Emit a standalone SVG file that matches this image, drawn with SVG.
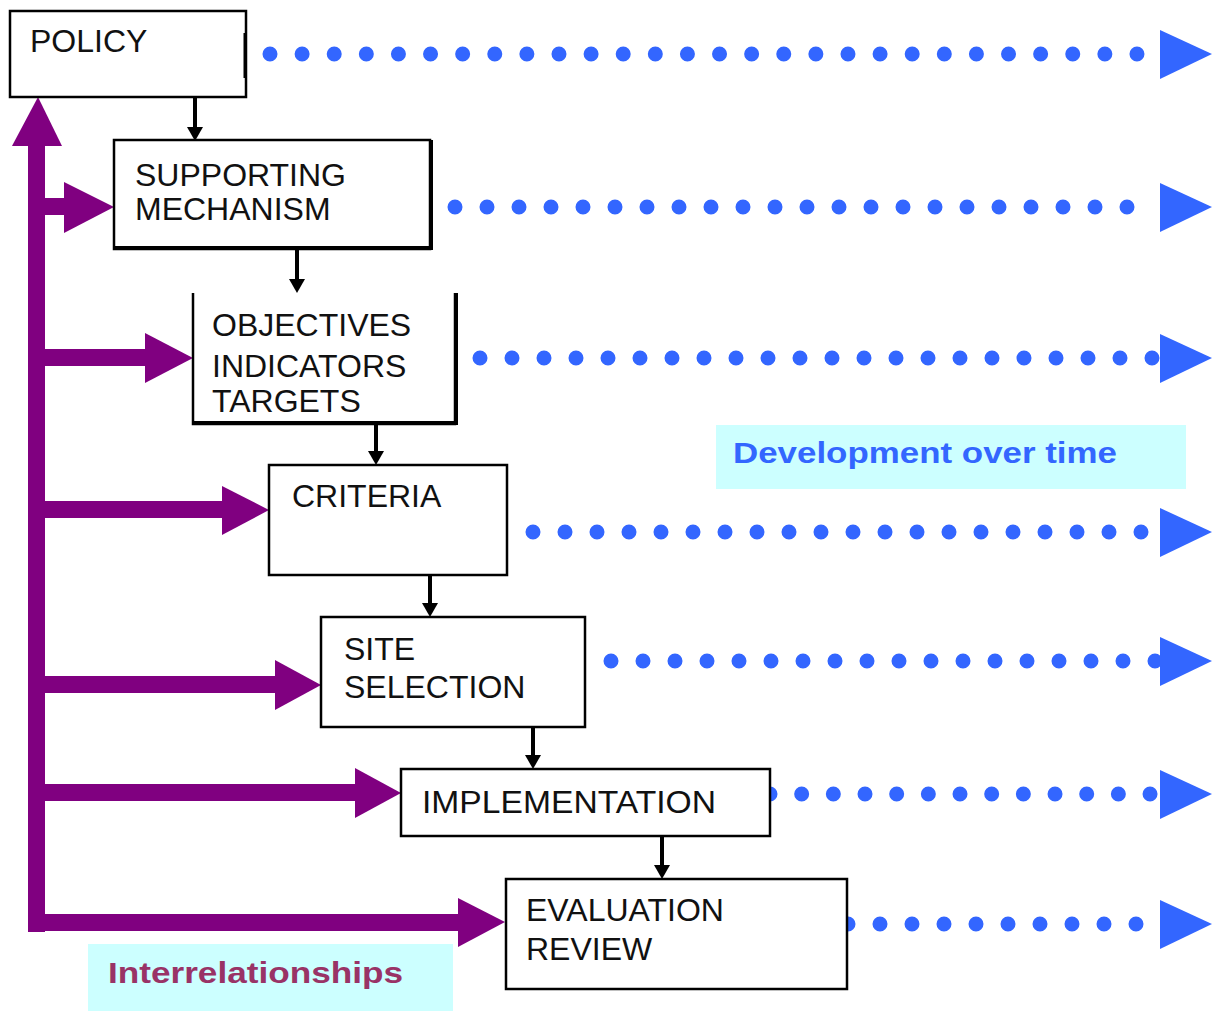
<svg xmlns="http://www.w3.org/2000/svg" width="1215" height="1012" viewBox="0 0 1215 1012">
<style>
.box{fill:#fff;stroke:#000;stroke-width:2.5}
.t{font-family:"Liberation Sans",Arial,sans-serif;font-size:32px;fill:#111}
.dots{fill:none;stroke:#3366ff;stroke-width:15;stroke-linecap:round}
.bh{fill:#3366ff}
.pb{fill:#800080}
.blk{stroke:#000;stroke-width:4;fill:none}
.ah{fill:#000}
</style>
<rect width="1215" height="1012" fill="#fff"/>
<g id="labels">
<rect x="716" y="425" width="470" height="64" fill="#ccffff"/>
<text x="733" y="463" font-family="Liberation Sans,Arial,sans-serif" font-size="30" font-weight="bold" fill="#3366ff" textLength="384" lengthAdjust="spacingAndGlyphs">Development over time</text>
<rect x="88" y="944" width="365" height="67" fill="#ccffff"/>
<text x="108" y="983" font-family="Liberation Sans,Arial,sans-serif" font-size="30" font-weight="bold" fill="#993366" textLength="295" lengthAdjust="spacingAndGlyphs">Interrelationships</text>
</g>
<g id="connectors">
<!-- blue dotted timelines -->
<path class="dots" d="M270 54H1138" stroke-dasharray="0 32.11"/>
<path class="dots" d="M455 207H1128" stroke-dasharray="0 32"/>
<path class="dots" d="M480 358H1153" stroke-dasharray="0 32"/>
<path class="dots" d="M533 532H1142" stroke-dasharray="0 32"/>
<path class="dots" d="M611 661H1156" stroke-dasharray="0 32"/>
<path class="dots" d="M770 794H1151" stroke-dasharray="0 31.67"/>
<path class="dots" d="M848 924H1137" stroke-dasharray="0 32"/>
<polygon class="bh" points="1160,30 1212,54 1160,79"/>
<polygon class="bh" points="1160,183 1212,207 1160,232"/>
<polygon class="bh" points="1160,334 1212,358 1160,383"/>
<polygon class="bh" points="1160,508 1212,532 1160,557"/>
<polygon class="bh" points="1160,637 1212,661 1160,686"/>
<polygon class="bh" points="1160,770 1212,794 1160,819"/>
<polygon class="bh" points="1160,900 1212,924 1160,949"/>
<!-- purple interrelationship arrows -->
<rect class="pb" x="28" y="140" width="17" height="792"/>
<polygon class="pb" points="12,146 38,97 62,146"/>
<rect class="pb" x="44" y="198" width="24" height="17"/>
<polygon class="pb" points="64,182 114,207 64,233"/>
<rect class="pb" x="44" y="349" width="104" height="17"/>
<polygon class="pb" points="145,333 193,358 145,383"/>
<rect class="pb" x="44" y="501" width="181" height="17"/>
<polygon class="pb" points="222,486 269,510 222,535"/>
<rect class="pb" x="44" y="676" width="234" height="17"/>
<polygon class="pb" points="275,660 321,685 275,710"/>
<rect class="pb" x="44" y="784" width="314" height="17"/>
<polygon class="pb" points="355,768 401,793 355,818"/>
<rect class="pb" x="28" y="914" width="433" height="17"/>
<polygon class="pb" points="458,898 505,922 458,947"/>
<!-- black flow arrows -->
<path class="blk" d="M195 97V128"/><polygon class="ah" points="187,127 203,127 195,141"/>
<path class="blk" d="M297 249V280"/><polygon class="ah" points="289,279 305,279 297,293"/>
<path class="blk" d="M376 424V452"/><polygon class="ah" points="368,451 384,451 376,465"/>
<path class="blk" d="M430 575V604"/><polygon class="ah" points="422,603 438,603 430,617"/>
<path class="blk" d="M533 727V756"/><polygon class="ah" points="525,755 541,755 533,769"/>
<path class="blk" d="M662 836V866"/><polygon class="ah" points="654,865 670,865 662,879"/>
</g>
<g id="policy">
<rect class="box" x="10" y="11" width="236" height="86"/>
<path d="M245 33V78" stroke="#000" stroke-width="3"/>
<text class="t" x="30" y="52">POLICY</text>
</g>
<g id="supporting">
<rect class="box" x="114" y="140" width="316" height="109"/>
<path d="M114 248H431V140" stroke="#000" stroke-width="4" fill="none"/>
<text class="t" x="135" y="186">SUPPORTING</text>
<text class="t" x="135" y="220">MECHANISM</text>
</g>
<g id="objectives">
<rect x="193" y="293" width="262" height="131" fill="#fff"/>
<path d="M193 293V424H455V293" stroke="#000" stroke-width="2.5" fill="none"/>
<path d="M193 423H456V293" stroke="#000" stroke-width="4" fill="none"/>
<text class="t" x="212" y="336">OBJECTIVES</text>
<text class="t" x="212" y="377">INDICATORS</text>
<text class="t" x="212" y="412">TARGETS</text>
</g>
<g id="criteria">
<rect class="box" x="269" y="465" width="238" height="110"/>
<text class="t" x="292" y="507">CRITERIA</text>
</g>
<g id="site">
<rect class="box" x="321" y="617" width="264" height="110"/>
<text class="t" x="344" y="660">SITE</text>
<text class="t" x="344" y="698">SELECTION</text>
</g>
<g id="implementation">
<rect class="box" x="401" y="769" width="369" height="67"/>
<text class="t" x="422" y="813" textLength="294" lengthAdjust="spacingAndGlyphs">IMPLEMENTATION</text>
</g>
<g id="evaluation">
<rect class="box" x="506" y="879" width="341" height="110"/>
<text class="t" x="526" y="921">EVALUATION</text>
<text class="t" x="526" y="960">REVIEW</text>
</g>
</svg>
